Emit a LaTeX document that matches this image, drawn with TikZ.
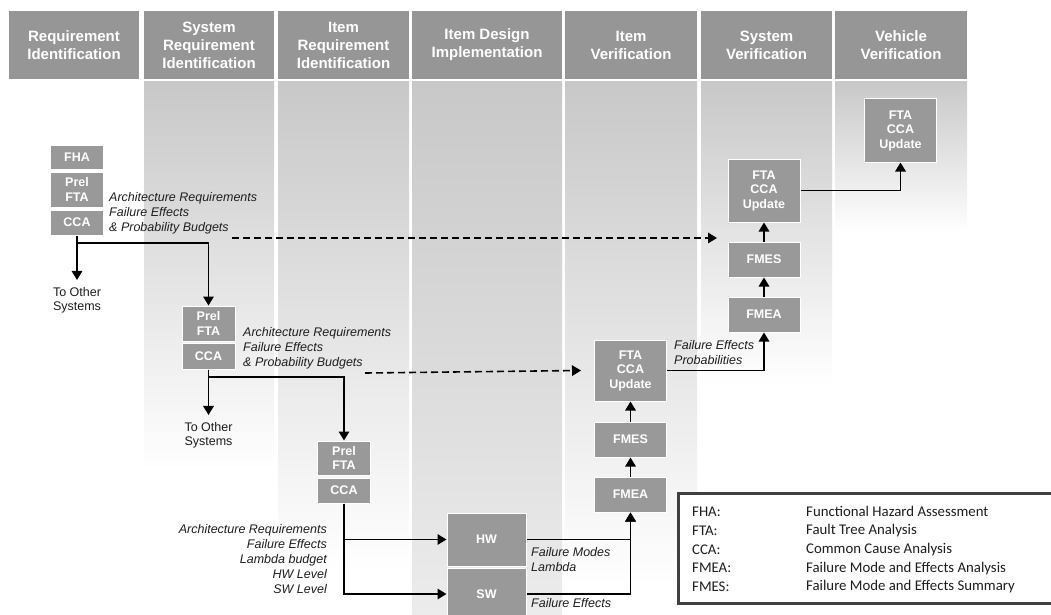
\documentclass[tikz,border=0pt]{standalone}
\usepackage{fontspec}
\setmainfont{Liberation Sans}
\newfontfamily\legendfamily{Carlito}
\usepackage{xcolor}
\usepackage{tikz}
\usetikzlibrary{arrows.meta, positioning}
\definecolor{headgray}{HTML}{969696}
\definecolor{boxgray}{HTML}{999999}
\definecolor{colgray}{HTML}{C8C8C8}
\definecolor{framegray}{HTML}{404040}
\definecolor{textdark}{HTML}{1E1E1E}
\newcommand{\hdrfont}{\bfseries\fontsize{15}{18}\selectfont}
\newcommand{\bxfont}{\bfseries\fontsize{12.5}{14.5}\selectfont}
\newcommand{\ntfont}{\itshape\fontsize{12.5}{15}\selectfont}
\newcommand{\plfont}{\fontsize{12.5}{14}\selectfont}
\newcommand{\lgfont}{\legendfamily\fontsize{14.8}{17}\selectfont}

\begin{document}
\begin{tikzpicture}[
    x=1pt, y=-1pt,
    header/.style={rectangle, fill=headgray, text=white, align=center,
                   font=\hdrfont, inner sep=0pt, minimum height=68pt},
    box/.style={rectangle, draw=white, line width=1pt, fill=boxgray,
                text=white, align=center, font=\bxfont, inner sep=0pt,
                minimum width=53pt},
    vbox/.style={box, minimum width=72pt},
    note/.style={font=\ntfont, align=left, inner sep=0pt, text=textdark},
    plainlbl/.style={font=\plfont, align=left, inner sep=0pt, text=textdark},
    legtxt/.style={font=\lgfont, anchor=west, inner sep=0pt, text=textdark},
    flow/.style={line width=1.6pt, -{Triangle[length=9pt,width=10.5pt]}},
    dash line/.style={flow, dash pattern=on 7pt off 4pt}
]
\useasboundingbox (0,0) rectangle (1051,615);

% column backgrounds
\foreach \xa/\xb/\ye in {144/274/470, 278/409/570, 565/697/585, 701/832/385, 835/967/232}
    \shade[top color=colgray, bottom color=white] (\xa,82) rectangle (\xb,\ye);
\shade[top color=colgray, bottom color=gray!15] (412,82) rectangle (562,615);

% phase headers
\foreach \cx/\w/\txt [count=\i] in {
    74/130/{Requirement\\Identification},
    209/130/{System\\Requirement\\Identification},
    343.5/131/{Item\\Requirement\\Identification},
    487/150/{Item Design\\Implementation},
    631/132/{Item\\Verification},
    766.5/131/{System\\Verification},
    901/132/{Vehicle\\Verification}}
    \node[header, minimum width=\w pt] (hd\i) at (\cx,45) {\txt};

% requirement identification
\node[box, minimum height=24pt] (fha) at (77,157) {FHA};
\node[box, minimum height=35pt, below=2pt of fha] (pfta1) {Prel\\FTA};
\node[box, minimum height=25pt, below=2pt of pfta1] (cca1) {CCA};
\node[note, anchor=west] (lbl1) at (109,213.5)
    {Architecture Requirements\\Failure Effects\\\& Probability Budgets};
\node[plainlbl] (to1) at (77,300) {To Other\\Systems};

% system requirement identification
\node[box, minimum height=35pt] (pfta2) at (208.5,323.5) {Prel\\FTA};
\node[box, minimum height=26pt, below=1pt of pfta2] (cca2) {CCA};
\node[note, anchor=west] (lbl2) at (243,348.5)
    {Architecture Requirements\\Failure Effects\\\& Probability Budgets};
\node[plainlbl] (to2) at (208.5,435) {To Other\\Systems};

% item requirement identification
\node[box, minimum height=34pt] (pfta3) at (344,458) {Prel\\FTA};
\node[box, minimum height=25pt, below=2pt of pfta3] (cca3) {CCA};
\node[note, anchor=east, align=right] (lbl3) at (327,559)
    {Architecture Requirements\\Failure Effects\\Lambda budget\\HW Level\\SW Level};

% item design
\node[box, minimum width=79pt, minimum height=53pt] (hw) at (486.5,539.5) {HW};
\node[box, minimum width=79pt, minimum height=52pt, below=1pt of hw] (sw) {SW};
\node[note, anchor=west] (lbl4) at (531,559.5) {Failure Modes\\Lambda};
\node[note, anchor=west] (lbl5) at (531,603) {Failure Effects};

% item verification
\node[vbox, minimum height=35pt] (fmea1) at (630.5,494.5) {FMEA};
\node[vbox, minimum height=35pt, above=19pt of fmea1] (fmes1) {FMES};
\node[vbox, minimum height=61pt, above=20pt of fmes1] (upd1) {FTA\\CCA\\Update};
\node[note, anchor=west] (lbl6) at (674,352.5) {Failure Effects\\Probabilities};

% system verification
\node[vbox, minimum height=35pt] (fmea2) at (764,314.5) {FMEA};
\node[vbox, minimum height=35pt, above=19pt of fmea2] (fmes2) {FMES};
\node[vbox, minimum height=63pt, above=19pt of fmes2] (upd2) {FTA\\CCA\\Update};

% vehicle verification
\node[vbox, minimum height=63pt] (veh) at (900.5,130.5) {FTA\\CCA\\Update};

% connectors
\coordinate (j1) at (77,243);
\coordinate (j2) at (208.5,377);
\draw[flow] (cca1) -- (j1) -| (pfta2);
\draw[flow, shorten >=7pt] (j1) -- (to1);
\draw[flow] (cca2) -- (j2) -| (pfta3);
\draw[flow, shorten >=7pt] (j2) -- (to2);
\draw[flow] (cca3) |- (hw);
\draw[flow] (cca3) |- (sw);
\draw[flow] (hw) -| (fmea1);
\draw[flow] (sw) -| (fmea1);
\draw[flow] (fmea1) -- (fmes1);
\draw[flow] (fmes1) -- (upd1);
\draw[flow] (upd1) -| (fmea2);
\draw[flow] (fmea2) -- (fmes2);
\draw[flow] (fmes2) -- (upd2);
\draw[flow] (upd2) -| (veh);

\coordinate (d1a) at (232,238);
\coordinate (d1b) at (717,238);
\coordinate (d2a) at (365,373);
\draw[dash line] (d1a) -- (d1b);
\draw[dash line] (d2a) -- ([xshift=-13pt]upd1.west);

% legend
\draw[framegray, line width=3pt, fill=white] (678,493) rectangle (1070,603);
\foreach \ab/\fl [count=\i] in {FHA:/Functional Hazard Assessment,
    FTA:/Fault Tree Analysis, CCA:/Common Cause Analysis,
    FMEA:/Failure Mode and Effects Analysis,
    FMES:/Failure Mode and Effects Summary} {
    \node[legtxt] (ab\i) at (692,{493+18.8*\i}) {\ab};
    \node[legtxt] (fl\i) at (806,{493+18.8*\i}) {\fl};
}
\end{tikzpicture}
\end{document}
